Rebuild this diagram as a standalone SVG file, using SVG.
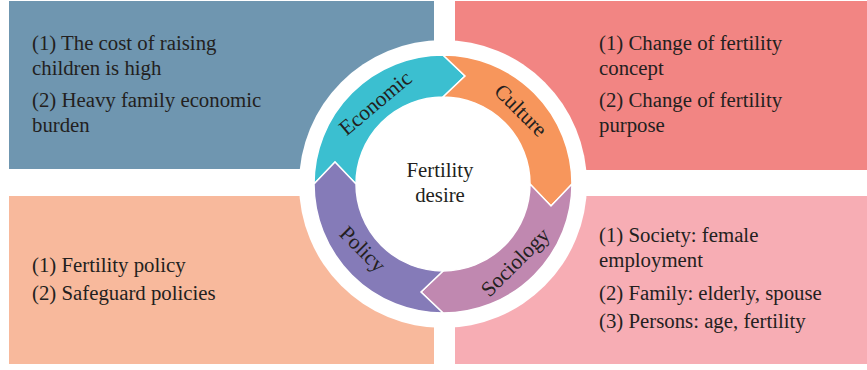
<svg xmlns="http://www.w3.org/2000/svg" width="867" height="370" viewBox="0 0 867 370">
<style>
text{font-family:"Liberation Serif","Times New Roman",serif;fill:#231f20;font-size:20.8px}
.seg{stroke:#ffffff;stroke-width:1.5;stroke-linejoin:miter}
.lbl{text-anchor:middle}
.ring{font-size:21.5px}
</style>
<rect width="867" height="370" fill="#ffffff"/>
<g id="panel-economic">
<rect x="9" y="1" width="425" height="168" fill="#6f96b0"/>
<text x="32" y="50">(1) The cost of raising</text>
<text x="32" y="75">children is high</text>
<text x="32" y="107">(2) Heavy family economic</text>
<text x="32" y="132">burden</text>
</g>
<g id="panel-culture">
<rect x="455" y="1" width="412" height="169" fill="#f28583"/>
<text x="599" y="50">(1) Change of fertility</text>
<text x="599" y="75">concept</text>
<text x="599" y="107">(2) Change of fertility</text>
<text x="599" y="132">purpose</text>
</g>
<g id="panel-policy">
<rect x="9" y="196" width="425" height="168" fill="#f8b99c"/>
<text x="32" y="272">(1) Fertility policy</text>
<text x="32" y="300">(2) Safeguard policies</text>
</g>
<g id="panel-sociology">
<rect x="455" y="196" width="412" height="168" fill="#f7adb4"/>
<text x="599" y="242">(1) Society: female</text>
<text x="599" y="267">employment</text>
<text x="599" y="300">(2) Family: elderly, spouse</text>
<text x="599" y="328">(3) Persons: age, fertility</text>
</g>
<circle cx="443" cy="184" r="144" fill="#ffffff"/>
<g id="ring">
<g id="seg-economic">
<path class="seg" fill="#3bbfd0" d="M314,184 A129,129 0 0 1 443,55 L465,76 L443,97 A87,87 0 0 0 356,184 L335,162 Z"/>
<text class="lbl ring" transform="translate(376,104) rotate(-40)" y="6">Economic</text>
</g>
<g id="seg-culture">
<path class="seg" fill="#f7965c" d="M443,55 A129,129 0 0 1 572,184 L551,206 L530,184 A87,87 0 0 0 443,97 L465,76 Z"/>
<text class="lbl ring" transform="translate(520,111) rotate(45)" y="6">Culture</text>
</g>
<g id="seg-sociology">
<path class="seg" fill="#c088b0" d="M572,184 A129,129 0 0 1 443,313 L421,292 L443,271 A87,87 0 0 0 530,184 L551,206 Z"/>
<text class="lbl ring" transform="translate(516,263) rotate(-45)" y="6">Sociology</text>
</g>
<g id="seg-policy">
<path class="seg" fill="#857bb8" d="M443,313 A129,129 0 0 1 314,184 L335,162 L356,184 A87,87 0 0 0 443,271 L421,292 Z"/>
<text class="lbl ring" transform="translate(362,250) rotate(45)" y="6">Policy</text>
</g>
</g>
<g id="center">
<text class="lbl" x="440" y="177">Fertility</text>
<text class="lbl" x="440" y="202">desire</text>
</g>
</svg>
